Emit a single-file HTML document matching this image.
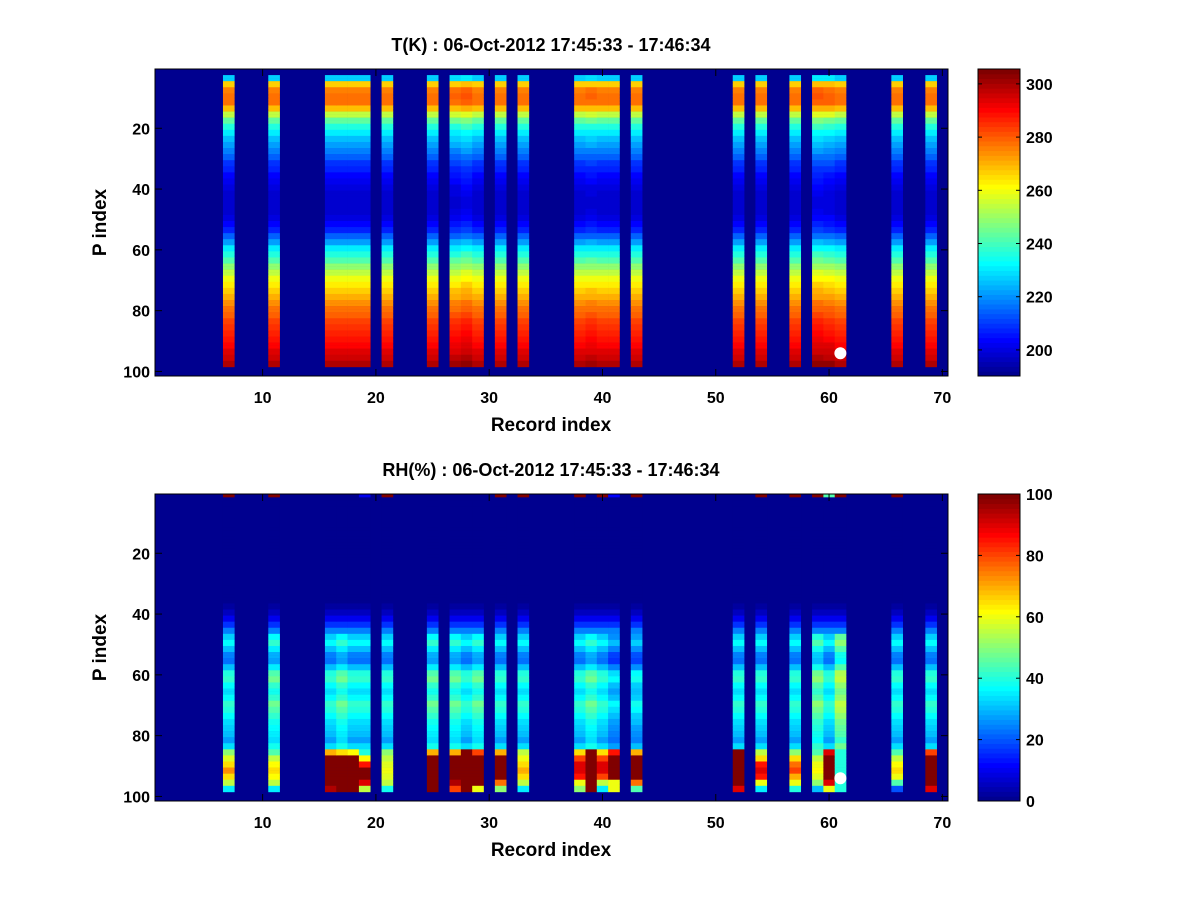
<!DOCTYPE html>
<html><head><meta charset="utf-8"><style>
body{margin:0;background:#fff;}
svg text{font-family:"Liberation Sans",sans-serif;font-weight:bold;fill:#000;}
</style></head><body>
<svg id="chart" width="1200" height="900" xmlns="http://www.w3.org/2000/svg">
<rect width="1200" height="900" fill="#fff"/>
</svg>
<script>
// ---- data ----
const dataCols = [7,11,16,17,18,19,21,25,27,28,29,31,33,38,39,40,41,43,52,54,57,59,60,61,66,69];
// Temperature base profile, 2-row bins starting at row 3 (rows 3..98)
const tProfile = [228,266,276,278,277,268,255,244,236,230,226,222,218,214,210,207,204,202,200,199,198,198,199,201,204,208,214,222,230,236,242,248,254,259,263,267,270,274,277,280,283,285,287,289,291,293,296,300];
const tOffset = [0,0,0,0,0,0,0,0,1,3,0,0,0,0,1,0,0,0,0,0,0,3,2,0,0,0];
// RH base profile, 2-row bins rows 3..84
const rhProfile = [0,0,0,0,0,0,0,0,0,0,0,0,0,0,0,0,0,3,6,10,16,24,32,36,30,24,22,30,40,42,36,34,36,42,40,36,34,32,30,28,34];
const rhOffset = [0,5,0,5,0,0,0,5,5,0,5,0,0,0,5,0,-6,-4,0,0,0,8,0,14,0,0];
// RH bottom rows 85..98 (2-row bins) per column
const rhBottom = [
[50,58,65,72,65,55,35],[45,55,62,65,62,55,35],[70,100,100,100,100,100,95],[65,100,100,100,100,100,100],
[62,100,100,100,100,100,100],[40,62,85,100,100,90,55],[50,55,58,60,58,55,38],[70,100,100,100,100,100,100],
[70,100,100,100,100,95,80],[100,100,100,100,100,100,100],[80,100,100,100,100,100,60],[70,100,100,100,100,75,50],
[55,60,65,70,65,55,35],[65,80,90,90,85,60,50],[100,100,100,100,100,100,100],[65,80,90,90,80,55,35],
[85,100,100,100,100,60,60],[70,100,100,100,100,75,45],[100,100,100,100,100,100,90],[55,65,85,90,85,60,35],
[50,65,75,80,70,60,40],[45,55,60,62,58,50,30],[90,100,100,100,100,90,60],[40,40,40,40,40,40,40],
[45,55,62,65,60,45,20],[80,100,100,100,100,100,90]];
// RH row 1 values (columns with marks at top)
const rhTopCols = [7,11,19,21,31,33,38,40,41,43,54,57,59,60,61,66];
const rhTopVals = [100,100,10,100,100,100,100,100,12,100,100,100,100,45,100,100];
const xTicks = [10,20,30,40,50,60,70];
const yTicks = [20,40,60,80,100];
const tCbTicks = [200,220,240,260,280,300];
const rhCbTicks = [0,20,40,60,80,100];
const marker = {rec:61, p:94};

// ---- helpers ----
const svg = document.getElementById('chart');
const NS = 'http://www.w3.org/2000/svg';
function mk(tag, attrs, parent){const e=document.createElementNS(NS,tag);for(const k in attrs)e.setAttribute(k,attrs[k]);(parent||svg).appendChild(e);return e;}
function jet(v,lo,hi){let k=Math.floor((v-lo)/(hi-lo)*64);k=Math.max(0,Math.min(63,k));const t=(k+1)/64;
 const c=x=>Math.round(255*Math.max(0,Math.min(1,1.5-Math.abs(4*t-x))));return `rgb(${c(3)},${c(2)},${c(1)})`;}

function panel(top, title, lo, hi, cbTicks, valueFn, name){
 const L=155,R=948,T=top,B=top+307;
 const xs=r=>L+(r-0.5)*(R-L)/70;
 const ys=p=>T+(p-0.5)*(B-T)/101;
 const g=mk('g',{});
 
 
 mk('rect',{x:L,y:T,width:R-L,height:B-T,fill:jet(lo,lo,hi)},g);
 dataCols.forEach((c,ci)=>{
  for(let p=1;p<=101;p++){
   const v=valueFn(ci,c,p); if(v===null) continue;
   const r=mk('rect',{x:xs(c-0.5),y:ys(p-0.5),width:xs(c+0.5)-xs(c-0.5)+0.3,height:ys(p+0.5)-ys(p-0.5)+0.3,fill:jet(v,lo,hi)},g);
   
   
  }
 });
 const m=mk('circle',{cx:xs(marker.rec),cy:ys(marker.p),r:6,fill:'#fff'});
 
 
 mk('rect',{x:L,y:T,width:R-L,height:B-T,fill:'none',stroke:'#000','stroke-width':1});
 xTicks.forEach(t=>{const x=xs(t);
  mk('line',{x1:x,y1:B,x2:x,y2:B-7,stroke:'#000'});mk('line',{x1:x,y1:T,x2:x,y2:T+7,stroke:'#000'});
  const tx=mk('text',{x:x,y:B+27,'text-anchor':'middle','font-size':16});tx.textContent=t;
  });
 yTicks.forEach(t=>{const y=ys(t);
  mk('line',{x1:L,y1:y,x2:L+7,y2:y,stroke:'#000'});mk('line',{x1:R,y1:y,x2:R-7,y2:y,stroke:'#000'});
  const tx=mk('text',{x:L-5,y:y+6,'text-anchor':'end','font-size':16});tx.textContent=t;
  });
 const ti=mk('text',{x:551,y:T-18,'text-anchor':'middle','font-size':18});ti.textContent=title;
 
 const xl=mk('text',{x:551,y:B+55,'text-anchor':'middle','font-size':19});xl.textContent='Record index';
 
 const yl=mk('text',{x:0,y:0,'text-anchor':'middle','font-size':19,transform:`translate(106,${(T+B)/2}) rotate(-90)`});yl.textContent='P index';
 
 // colorbar
 const cb=mk('g',{});
 
 
 const CL=978,CR=1020;
 for(let k=0;k<64;k++){const y0=B-(k+1)*(B-T)/64;
  mk('rect',{x:CL,y:y0,width:CR-CL,height:(B-T)/64+0.5,fill:jet(lo+(k+0.5)/64*(hi-lo),lo,hi)},cb);}
 mk('rect',{x:CL,y:T,width:CR-CL,height:B-T,fill:'none',stroke:'#000'},cb);
 cbTicks.forEach(t=>{const y=B-(t-lo)/(hi-lo)*(B-T);
  mk('line',{x1:CL,y1:y,x2:CL+4,y2:y,stroke:'#000'},cb);mk('line',{x1:CR,y1:y,x2:CR-4,y2:y,stroke:'#000'},cb);
  const tx=mk('text',{x:CR+6,y:y+6,'font-size':16},cb);tx.textContent=t;
  });
}

panel(69,'T(K) : 06-Oct-2012 17:45:33 - 17:46:34',190.2,305.6,tCbTicks,(ci,c,p)=>{
 if(p<3||p>98) return null;
 return tProfile[Math.floor((p-3)/2)]+tOffset[ci];
},'temperature');

panel(494,'RH(%) : 06-Oct-2012 17:45:33 - 17:46:34',0,100,rhCbTicks,(ci,c,p)=>{
 if(p===1){const i=rhTopCols.indexOf(c);return i>=0?rhTopVals[i]:null;}
 if(p<3||p>98) return null;
 const b=Math.floor((p-3)/2);
 if(p>=85) return rhBottom[ci][Math.floor((p-85)/2)];
 const v=rhProfile[b]; return v>0?Math.max(1,v+(b>=22?rhOffset[ci]:0)):v;
},'humidity');
</script>
</body></html>
